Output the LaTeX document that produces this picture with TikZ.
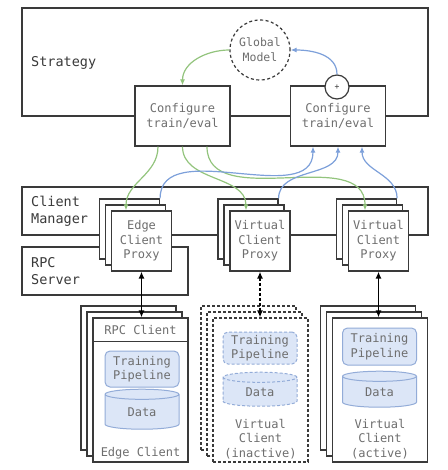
\documentclass[tikz,border=0pt]{standalone}
\usepackage{fontspec}
\setmonofont{DejaVu Sans Mono}
\usetikzlibrary{calc}
\usetikzlibrary{shapes,arrows,arrows.meta}

\definecolor{linegray}{HTML}{3A3A3A}
\definecolor{textgray}{HTML}{6E6E6E}
\definecolor{greenarr}{HTML}{93C47D}
\definecolor{bluearr}{HTML}{7DA0DA}
\definecolor{boxblue}{HTML}{DCE6F7}
\definecolor{borderblue}{HTML}{93ACD8}

\tikzset{
  panel/.style={draw=linegray, line width=1.2pt, fill=white, inner sep=0pt},
  sidelabel/.style={font=\ttfamily\fontsize{13.5}{17}\selectfont, text=linegray, align=left, inner sep=0pt},
  graytext/.style={font=\ttfamily\fontsize{12}{14.5}\selectfont, text=textgray, align=center, inner sep=0pt},
  cfgbox/.style={panel, graytext, minimum width=95pt, minimum height=60pt},
  proxybox/.style={panel, graytext, minimum width=60pt, minimum height=60pt},
  clientbox/.style={panel, minimum width=95pt, minimum height=144pt},
  globalnode/.style={circle, draw=linegray, line width=1.2pt, dash pattern=on 3pt off 2.5pt, fill=white,
    minimum size=60pt, inner sep=0pt, font=\ttfamily\fontsize{11.5}{15}\selectfont, text=textgray, align=center},
  plusnode/.style={circle, draw=linegray, line width=1.2pt, fill=white, minimum size=24pt, inner sep=0pt,
    font=\ttfamily\fontsize{8}{8}\selectfont, text=linegray},
  pipebox/.style={rounded corners=5pt, draw=borderblue, line width=1pt, fill=boxblue, graytext,
    minimum width=74pt, minimum height=36pt},
  datacyl/.style={cylinder, shape border rotate=90, aspect=0.35, draw=borderblue, line width=1pt, fill=boxblue,
    graytext, minimum width=74pt, minimum height=40pt},
  greenline/.style={draw=greenarr, line width=1.2pt, -{Latex[length=6pt,width=5pt]}},
  blueline/.style={draw=bluearr, line width=1.2pt, -{Latex[length=6pt,width=5pt]}},
  bigarrow/.style={draw=black, line width=1.4pt, {Latex[length=7pt,width=6pt]}-{Latex[length=7pt,width=6pt]}},
  dashedbox/.style={dash pattern=on 3pt off 2pt}
}

\begin{document}
\begin{tikzpicture}[x=1pt,y=-1pt]
  \useasboundingbox (0,0) rectangle (447,470);

  % strategy
  \node [panel, minimum width=406pt, minimum height=108pt] (strategy) at (225,62) {};
  \node [sidelabel, anchor=west] (strategylabel) at (31,63) {Strategy};
  \node [globalnode] (global) at (260,50) {Global\\Model};
  \node [cfgbox] (cfgleft) at (182.5,116) {Configure\\train/eval};
  \node [cfgbox] (cfgright) at (338,116) {Configure\\train/eval};
  \node [plusnode] (plus) at (337,87) {+};
  \draw [greenline] (global.west) to[out=180,in=90] (cfgleft.north);
  \draw [blueline] (plus.north) to[out=90,in=0] (global.east);

  % client manager, rpc server
  \node [panel, minimum width=406pt, minimum height=48pt] (manager) at (225,211) {};
  \node [sidelabel, anchor=west] (managerlabel) at (31,211) {Client\\Manager};
  \node [panel, minimum width=166pt, minimum height=48pt] (rpcserver) at (105,271) {};
  \node [sidelabel, anchor=west] (rpcserverlabel) at (31,271) {RPC\\Server};

  % proxies
  \node [proxybox] (edgeproxy-b2) at (129.5,229) {};
  \node [proxybox] (edgeproxy-b1) at (135.5,235) {};
  \node [proxybox] (edgeproxy) at (141.5,241) {Edge\\Client\\Proxy};
  \node [proxybox] (midproxy-b2) at (248,229) {};
  \node [proxybox] (midproxy-b1) at (254,235) {};
  \node [proxybox] (midproxy) at (260,241) {Virtual\\Client\\Proxy};
  \node [proxybox] (rightproxy-b2) at (366.5,229) {};
  \node [proxybox] (rightproxy-b1) at (372.5,235) {};
  \node [proxybox] (rightproxy) at (378.5,241) {Virtual\\Client\\Proxy};

  \draw [greenline] ([xshift=-24.5pt]cfgleft.south) to[out=-90,in=90] ([xshift=-15.5pt]edgeproxy.north);
  \draw [greenline] (cfgleft.south) to[out=-90,in=90] ([xshift=-14pt]midproxy.north);
  \draw [greenline] ([xshift=24.5pt]cfgleft.south) to[out=-90,in=90] ([xshift=-13.5pt]rightproxy.north);
  \draw [blueline] (edgeproxy-b2.north east) to[out=90,in=-90] ([xshift=-25pt]cfgright.south);
  \draw [blueline] (midproxy-b2.north east) to[out=90,in=-90] (cfgright.south);
  \draw [blueline] (rightproxy-b2.north east) to[out=90,in=-90] ([xshift=24pt]cfgright.south);

  % edge client
  \node [clientbox] (edgeclient-b2) at (128.5,378) {};
  \node [clientbox] (edgeclient-b1) at (134.5,384) {};
  \node [clientbox] (edgeclient) at (140.5,390) {};
  \draw [draw=linegray, line width=1.2pt] ($(edgeclient.north west)+(0,24)$) -- ($(edgeclient.north east)+(0,24)$);
  \node [graytext] (rpcclient) at ($(edgeclient.north)+(0,12.5)$) {RPC Client};
  \node [pipebox] (edgepipe) at (142,369) {Training\\Pipeline};
  \node [datacyl] (edgedata) at (142,412) {Data};
  \node [graytext] (edgelabel) at (140.5,453) {Edge Client};

  % inactive virtual client
  \node [clientbox, dashedbox] (inactclient-b2) at (248.5,378) {};
  \node [clientbox, dashedbox] (inactclient-b1) at (254.5,384) {};
  \node [clientbox, dashedbox] (inactclient) at (260.5,390) {};
  \node [pipebox, dashedbox, minimum height=32pt] (inactpipe) at (260,348) {Training\\Pipeline};
  \node [datacyl, dashedbox, minimum height=34pt] (inactdata) at (260,392) {Data};
  \node [graytext] (inactlabel) at (260.5,439) {Virtual\\Client\\(inactive)};

  % active virtual client
  \node [clientbox] (actclient-b2) at (368,378) {};
  \node [clientbox] (actclient-b1) at (374,384) {};
  \node [clientbox] (actclient) at (380,390) {};
  \node [pipebox, minimum height=37pt] (actpipe) at (379.5,346.5) {Training\\Pipeline};
  \node [datacyl, minimum height=36pt] (actdata) at (379.5,392) {Data};
  \node [graytext] (actlabel) at (380,439) {Virtual\\Client\\(active)};

  \draw [bigarrow] (edgeproxy.south) -- (edgeproxy.south |- edgeclient.north);
  \draw [bigarrow, dashedbox] (midproxy.south) -- (midproxy.south |- inactclient.north);
  \draw [bigarrow] (rightproxy.south) -- (rightproxy.south |- actclient.north);
\end{tikzpicture}
\end{document}
